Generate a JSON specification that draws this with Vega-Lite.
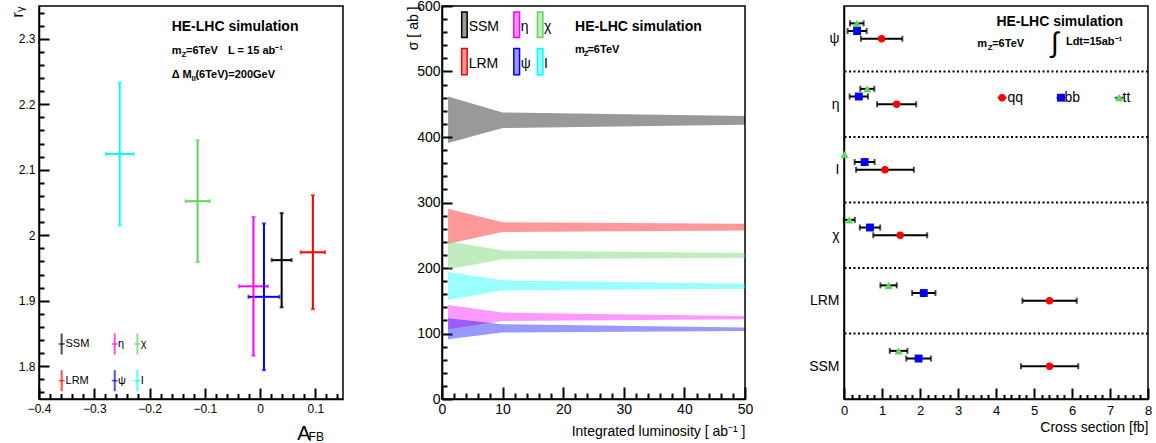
{
  "$schema": "https://vega.github.io/schema/vega-lite/v6.json",
  "background": "white",
  "padding": {"left": 7, "top": -2, "right": 0, "bottom": 0},
  "spacing": 99,
  "bounds": "flush",
  "resolve": {"scale": {"color": "independent", "shape": "independent", "size": "independent", "stroke": "independent"}},
  "config": {
    "font": "Liberation Sans",
    "view": {"stroke": "black", "strokeWidth": 1.5},
    "axis": {"domainColor": "black", "domainWidth": 1.5, "labelColor": "black", "titleColor": "black", "labelFont": "Liberation Sans", "titleFont": "Liberation Sans", "titleFontWeight": "normal", "grid": false, "labelFlush": false, "labelOverlap": false, "zindex": 2}
  },
  "datasets": {
    "p1": [
      {"model": "SSM", "a": 0.039, "ea": 0.018, "r": 1.962, "er": 0.072},
      {"model": "LRM", "a": 0.0955, "ea": 0.022, "r": 1.974, "er": 0.087},
      {"model": "χ", "a": -0.113, "ea": 0.022, "r": 2.052, "er": 0.093},
      {"model": "I", "a": -0.254, "ea": 0.025, "r": 2.124, "er": 0.109},
      {"model": "η", "a": -0.012, "ea": 0.026, "r": 1.922, "er": 0.106},
      {"model": "ψ", "a": 0.007, "ea": 0.028, "r": 1.906, "er": 0.112}
    ],
    "p1leg": [
      {"model": "SSM", "a": -0.359, "r": 1.834, "lx": -0.352},
      {"model": "η", "a": -0.263, "r": 1.834, "lx": -0.257},
      {"model": "χ", "a": -0.222, "r": 1.834, "lx": -0.216},
      {"model": "LRM", "a": -0.359, "r": 1.778, "lx": -0.352},
      {"model": "ψ", "a": -0.263, "r": 1.778, "lx": -0.257},
      {"model": "I", "a": -0.222, "r": 1.778, "lx": -0.216}
    ],
    "p1big": [{"a": -0.160, "r": 2.318, "t": "HE-LHC simulation"}],
    "p1mid": [
      {"a": -0.160, "r": 2.282, "t": "m"},
      {"a": -0.134, "r": 2.282, "t": "=6TeV"},
      {"a": -0.058, "r": 2.282, "t": "L = 15 ab⁻¹"},
      {"a": -0.160, "r": 2.245, "t": "Δ M"},
      {"a": -0.117, "r": 2.245, "t": "(6TeV)=200GeV"}
    ],
    "p1sub": [
      {"a": -0.142, "r": 2.282, "t": "Z"},
      {"a": -0.124, "r": 2.245, "t": "ll"}
    ],
    "p1fb": [{"a": 0.0878, "r": 1.6856, "t": "FB"}],
    "p2": [
      {"model": "SSM", "L": 1, "lo": 391, "hi": 462},
      {"model": "SSM", "L": 10, "lo": 413.6, "hi": 437.5},
      {"model": "SSM", "L": 50, "lo": 418.8, "hi": 431.9},
      {"model": "LRM", "L": 1, "lo": 237, "hi": 290.3},
      {"model": "LRM", "L": 10, "lo": 254.8, "hi": 270},
      {"model": "LRM", "L": 50, "lo": 257.3, "hi": 267.5},
      {"model": "χ", "L": 1, "lo": 198, "hi": 241},
      {"model": "χ", "L": 10, "lo": 213.2, "hi": 226.8},
      {"model": "χ", "L": 50, "lo": 215.7, "hi": 222.8},
      {"model": "I", "L": 1, "lo": 151.2, "hi": 193.9},
      {"model": "I", "L": 10, "lo": 166, "hi": 181.2},
      {"model": "I", "L": 50, "lo": 168.4, "hi": 176},
      {"model": "η", "L": 1, "lo": 106.6, "hi": 143.6},
      {"model": "η", "L": 10, "lo": 119.2, "hi": 131.9},
      {"model": "η", "L": 50, "lo": 121.8, "hi": 126.8},
      {"model": "ψ", "L": 1, "lo": 91.3, "hi": 123.3},
      {"model": "ψ", "L": 10, "lo": 101.5, "hi": 114.2},
      {"model": "ψ", "L": 50, "lo": 104, "hi": 109}
    ],
    "p2leg": [
      {"model": "SSM", "L": 3.25, "L2": 4.15, "lo": 552, "hi": 591},
      {"model": "η", "L": 11.85, "L2": 12.8, "lo": 552, "hi": 591},
      {"model": "χ", "L": 15.75, "L2": 16.65, "lo": 552, "hi": 591},
      {"model": "LRM", "L": 3.25, "L2": 4.15, "lo": 495, "hi": 535},
      {"model": "ψ", "L": 11.85, "L2": 12.8, "lo": 495, "hi": 535},
      {"model": "I", "L": 15.75, "L2": 16.65, "lo": 495, "hi": 535}
    ],
    "p2legtxt": [
      {"L": 4.4, "lo": 568, "t": "SSM"},
      {"L": 13.0, "lo": 568, "t": "η"},
      {"L": 16.85, "lo": 568, "t": "χ"},
      {"L": 4.4, "lo": 511, "t": "LRM"},
      {"L": 13.0, "lo": 511, "t": "ψ"},
      {"L": 16.85, "lo": 511, "t": "I"}
    ],
    "p2big": [{"L": 21.95, "lo": 568.5, "t": "HE-LHC simulation"}],
    "p2mid": [
      {"L": 21.95, "lo": 533, "t": "m"},
      {"L": 24.0, "lo": 533, "t": "=6TeV"}
    ],
    "p2sub": [{"L": 23.4, "lo": 533, "t": "Z"}],
    "sep": [{"y": 1}, {"y": 2}, {"y": 3}, {"y": 4}, {"y": 5}],
    "p3": [
      {"model": "ψ", "ch": "tt", "x": 0.337, "ex": 0.18, "y": 5.735},
      {"model": "ψ", "ch": "bb", "x": 0.345, "ex": 0.25, "y": 5.618},
      {"model": "ψ", "ch": "qq", "x": 0.99, "ex": 0.545, "y": 5.5},
      {"model": "η", "ch": "tt", "x": 0.613, "ex": 0.184, "y": 4.735},
      {"model": "η", "ch": "bb", "x": 0.39, "ex": 0.242, "y": 4.618},
      {"model": "η", "ch": "qq", "x": 1.385, "ex": 0.515, "y": 4.5},
      {"model": "I", "ch": "tt", "x": 0.018, "ex": 0, "y": 3.735},
      {"model": "I", "ch": "bb", "x": 0.543, "ex": 0.263, "y": 3.618},
      {"model": "I", "ch": "qq", "x": 1.078, "ex": 0.76, "y": 3.5},
      {"model": "χ", "ch": "tt", "x": 0.14, "ex": 0.145, "y": 2.735},
      {"model": "χ", "ch": "bb", "x": 0.684, "ex": 0.268, "y": 2.618},
      {"model": "χ", "ch": "qq", "x": 1.48, "ex": 0.71, "y": 2.5},
      {"model": "LRM", "ch": "tt", "x": 1.174, "ex": 0.215, "y": 1.735},
      {"model": "LRM", "ch": "bb", "x": 2.1, "ex": 0.307, "y": 1.618},
      {"model": "LRM", "ch": "qq", "x": 5.41, "ex": 0.715, "y": 1.5},
      {"model": "SSM", "ch": "tt", "x": 1.437, "ex": 0.232, "y": 0.735},
      {"model": "SSM", "ch": "bb", "x": 1.963, "ex": 0.325, "y": 0.618},
      {"model": "SSM", "ch": "qq", "x": 5.41, "ex": 0.755, "y": 0.5}
    ],
    "p3leg": [
      {"ch": "qq", "x": 4.16, "y": 4.6},
      {"ch": "bb", "x": 5.71, "y": 4.6},
      {"ch": "tt", "x": 7.24, "y": 4.6}
    ],
    "p3legtxt": [
      {"x": 4.3, "y": 4.6, "t": "qq"},
      {"x": 5.8, "y": 4.6, "t": "bb"},
      {"x": 7.33, "y": 4.6, "t": "tt"}
    ],
    "p3big": [{"x": 4.01, "y": 5.756, "t": "HE-LHC simulation"}],
    "p3mid": [
      {"x": 3.505, "y": 5.42, "t": "m"},
      {"x": 3.9, "y": 5.42, "t": "=6TeV"},
      {"x": 5.84, "y": 5.45, "t": "Ldt=15ab⁻¹"}
    ],
    "p3sub": [{"x": 3.78, "y": 5.42, "t": "Z"}],
    "p3int": [{"x": 5.55, "y": 5.42, "t": "∫"}]
  },
  "hconcat": [
    {
      "width": 304,
      "height": 393,
      "resolve": {"axis": {"x": "independent", "y": "independent"}},
      "layer": [
        {
          "layer": [
            {
              "data": {"name": "p1"},
              "mark": {"type": "errorbar", "thickness": 2, "ticks": {"size": 4}},
              "encoding": {
                "x": {"field": "a", "type": "quantitative", "title": "A", "scale": {"domain": [-0.4, 0.15], "nice": false, "zero": false},
                  "axis": {"values": [-0.4, -0.3, -0.2, -0.1, 0, 0.1], "format": "~g",
                    "ticks": true, "tickSize": -11, "tickColor": "black", "tickWidth": 2, "tickOpacity": 1,
                    "labelPadding": 15, "labelFontSize": 12,
                    "title": "A", "titleFontSize": 20, "titleX": 271, "titleY": 40, "titleAlign": "right", "titleBaseline": "alphabetic"}},
                "xError": {"field": "ea"},
                "y": {"field": "r", "type": "quantitative", "title": "rᵧ", "scale": {"domain": [1.75, 2.35], "nice": false, "zero": false},
                  "axis": {"values": [1.8, 1.9, 2, 2.1, 2.2, 2.3], "format": "~g",
                    "ticks": true, "tickSize": -10, "tickColor": "black", "tickWidth": 2, "tickOpacity": 1,
                    "labelPadding": 14, "labelFontSize": 12,
                    "title": "rᵧ", "titleFontSize": 17, "titleAnchor": "end", "titlePadding": -8}},
                "color": {"field": "model", "type": "nominal", "scale": {"domain": ["SSM", "LRM", "χ", "I", "η", "ψ"], "range": ["#000000", "#ff0000", "#5fd35f", "#00ffff", "#ff00ff", "#0000ff"]}, "legend": null}
              }
            },
            {
              "data": {"name": "p1"},
              "mark": {"type": "errorbar", "thickness": 2, "ticks": {"size": 4}},
              "encoding": {
                "x": {"field": "a", "type": "quantitative", "title": "A"},
                "y": {"field": "r", "type": "quantitative", "title": "rᵧ"},
                "yError": {"field": "er"},
                "color": {"field": "model", "type": "nominal", "legend": null}
              }
            },
            {
              "data": {"name": "p1leg"},
              "mark": {"type": "tick", "orient": "vertical", "size": 21, "thickness": 2},
              "encoding": {
                "x": {"field": "a", "type": "quantitative", "title": "A"},
                "y": {"field": "r", "type": "quantitative", "title": "rᵧ"},
                "color": {"field": "model", "type": "nominal", "legend": null}
              }
            },
            {
              "data": {"name": "p1leg"},
              "mark": {"type": "tick", "orient": "horizontal", "size": 6, "thickness": 1.5},
              "encoding": {
                "x": {"field": "a", "type": "quantitative", "title": "A"},
                "y": {"field": "r", "type": "quantitative", "title": "rᵧ"},
                "color": {"field": "model", "type": "nominal", "legend": null}
              }
            },
            {
              "data": {"name": "p1leg"},
              "mark": {"type": "text", "align": "left", "baseline": "middle", "fontSize": 11, "color": "black"},
              "encoding": {
                "x": {"field": "lx", "type": "quantitative", "title": "A"},
                "y": {"field": "r", "type": "quantitative", "title": "rᵧ"},
                "text": {"field": "model"}
              }
            },
            {
              "data": {"name": "p1big"},
              "mark": {"type": "text", "align": "left", "baseline": "middle", "fontSize": 14, "fontWeight": "bold", "color": "black"},
              "encoding": {"x": {"field": "a", "type": "quantitative", "title": "A"}, "y": {"field": "r", "type": "quantitative", "title": "rᵧ"}, "text": {"field": "t"}}
            },
            {
              "data": {"name": "p1mid"},
              "mark": {"type": "text", "align": "left", "baseline": "middle", "fontSize": 11, "fontWeight": "bold", "color": "black"},
              "encoding": {"x": {"field": "a", "type": "quantitative", "title": "A"}, "y": {"field": "r", "type": "quantitative", "title": "rᵧ"}, "text": {"field": "t"}}
            },
            {
              "data": {"name": "p1sub"},
              "mark": {"type": "text", "align": "left", "baseline": "middle", "fontSize": 8, "fontWeight": "bold", "dy": 4, "color": "black"},
              "encoding": {"x": {"field": "a", "type": "quantitative", "title": "A"}, "y": {"field": "r", "type": "quantitative", "title": "rᵧ"}, "text": {"field": "t"}}
            },
            {
              "data": {"name": "p1fb"},
              "mark": {"type": "text", "align": "left", "baseline": "alphabetic", "fontSize": 12, "color": "black"},
              "encoding": {"x": {"field": "a", "type": "quantitative", "title": "A"}, "y": {"field": "r", "type": "quantitative", "title": "rᵧ"}, "text": {"field": "t"}}
            }
          ]
        },
        {
          "data": {"name": "p1"},
          "mark": {"type": "point", "opacity": 0},
          "encoding": {
            "x": {"field": "a", "type": "quantitative", "scale": {"domain": [-0.4, 0.15], "nice": false, "zero": false},
              "axis": {"orient": "bottom", "values": [-0.38,-0.36,-0.34,-0.32,-0.28,-0.26,-0.24,-0.22,-0.18,-0.16,-0.14,-0.12,-0.08,-0.06,-0.04,-0.02,0.02,0.04,0.06,0.08,0.12,0.14],
                "labels": false, "domain": false, "ticks": true, "tickSize": -5.5, "tickColor": "black", "tickWidth": 2, "tickOpacity": 1, "title": null}},
            "y": {"field": "r", "type": "quantitative", "scale": {"domain": [1.75, 2.35], "nice": false, "zero": false},
              "axis": {"orient": "left", "values": [1.76,1.78,1.82,1.84,1.86,1.88,1.92,1.94,1.96,1.98,2.02,2.04,2.06,2.08,2.12,2.14,2.16,2.18,2.22,2.24,2.26,2.28,2.32,2.34],
                "labels": false, "domain": false, "ticks": true, "tickSize": -5, "tickColor": "black", "tickWidth": 2, "tickOpacity": 1, "title": null}}
          }
        }
      ]
    },
    {
      "width": 303,
      "height": 393,
      "resolve": {"axis": {"x": "independent", "y": "independent"}},
      "layer": [
        {
          "layer": [
            {
              "data": {"name": "p2"},
              "mark": {"type": "area", "fillOpacity": 0.4},
              "encoding": {
                "x": {"field": "L", "type": "quantitative", "title": "Integrated luminosity [ ab⁻¹ ]", "scale": {"domain": [0, 50], "nice": false},
                  "axis": {"values": [0, 10, 20, 30, 40, 50],
                    "ticks": true, "tickSize": -12, "tickColor": "black", "tickWidth": 2, "tickOpacity": 1,
                    "labelPadding": 15, "labelFontSize": 14,
                    "title": "Integrated luminosity [ ab⁻¹ ]", "titleFontSize": 14, "titleAnchor": "end", "titlePadding": 8}},
                "y": {"field": "lo", "type": "quantitative", "title": "σ [ ab ]", "scale": {"domain": [0, 600], "nice": false},
                  "axis": {"values": [0, 100, 200, 300, 400, 500, 600],
                    "ticks": true, "tickSize": -10, "tickColor": "black", "tickWidth": 2, "tickOpacity": 1,
                    "labelPadding": 12, "labelFontSize": 14,
                    "title": "σ [ ab ]", "titleFontSize": 14, "titleAnchor": "end", "titlePadding": -4}},
                "y2": {"field": "hi"},
                "color": {"field": "model", "type": "nominal", "scale": {"domain": ["SSM", "LRM", "χ", "I", "η", "ψ"], "range": ["#000000", "#ff0000", "#5fd35f", "#00ffff", "#ff00ff", "#0000ff"]}, "legend": null}
              }
            },
            {
              "data": {"name": "p2leg"},
              "mark": {"type": "rect", "fillOpacity": 0.4, "strokeWidth": 1.5},
              "encoding": {
                "x": {"field": "L", "type": "quantitative", "title": "Integrated luminosity [ ab⁻¹ ]"},
                "x2": {"field": "L2"},
                "y": {"field": "lo", "type": "quantitative", "title": "σ [ ab ]"},
                "y2": {"field": "hi"},
                "color": {"field": "model", "type": "nominal", "legend": null},
                "stroke": {"field": "model", "type": "nominal", "scale": {"domain": ["SSM", "LRM", "χ", "I", "η", "ψ"], "range": ["#000000", "#ff0000", "#5fd35f", "#00ffff", "#ff00ff", "#0000ff"]}, "legend": null}
              }
            },
            {
              "data": {"name": "p2legtxt"},
              "mark": {"type": "text", "align": "left", "baseline": "middle", "fontSize": 14, "color": "black"},
              "encoding": {"x": {"field": "L", "type": "quantitative", "title": "Integrated luminosity [ ab⁻¹ ]"}, "y": {"field": "lo", "type": "quantitative", "title": "σ [ ab ]"}, "text": {"field": "t"}}
            },
            {
              "data": {"name": "p2big"},
              "mark": {"type": "text", "align": "left", "baseline": "middle", "fontSize": 14, "fontWeight": "bold", "color": "black"},
              "encoding": {"x": {"field": "L", "type": "quantitative", "title": "Integrated luminosity [ ab⁻¹ ]"}, "y": {"field": "lo", "type": "quantitative", "title": "σ [ ab ]"}, "text": {"field": "t"}}
            },
            {
              "data": {"name": "p2mid"},
              "mark": {"type": "text", "align": "left", "baseline": "middle", "fontSize": 11, "fontWeight": "bold", "color": "black"},
              "encoding": {"x": {"field": "L", "type": "quantitative", "title": "Integrated luminosity [ ab⁻¹ ]"}, "y": {"field": "lo", "type": "quantitative", "title": "σ [ ab ]"}, "text": {"field": "t"}}
            },
            {
              "data": {"name": "p2sub"},
              "mark": {"type": "text", "align": "left", "baseline": "middle", "fontSize": 8, "fontWeight": "bold", "dy": 4, "color": "black"},
              "encoding": {"x": {"field": "L", "type": "quantitative", "title": "Integrated luminosity [ ab⁻¹ ]"}, "y": {"field": "lo", "type": "quantitative", "title": "σ [ ab ]"}, "text": {"field": "t"}}
            }
          ]
        },
        {
          "data": {"name": "p2"},
          "mark": {"type": "point", "opacity": 0},
          "encoding": {
            "x": {"field": "L", "type": "quantitative", "scale": {"domain": [0, 50], "nice": false},
              "axis": {"orient": "bottom", "values": [2,4,6,8,12,14,16,18,22,24,26,28,32,34,36,38,42,44,46,48],
                "labels": false, "domain": false, "ticks": true, "tickSize": -6, "tickColor": "black", "tickWidth": 2, "tickOpacity": 1, "title": null}},
            "y": {"field": "lo", "type": "quantitative", "scale": {"domain": [0, 600], "nice": false},
              "axis": {"orient": "left", "values": [20,40,60,80,120,140,160,180,220,240,260,280,320,340,360,380,420,440,460,480,520,540,560,580],
                "labels": false, "domain": false, "ticks": true, "tickSize": -5, "tickColor": "black", "tickWidth": 2, "tickOpacity": 1, "title": null}}
          }
        }
      ]
    },
    {
      "width": 304,
      "height": 393,
      "resolve": {"axis": {"x": "independent", "y": "independent"}},
      "layer": [
        {
          "layer": [
            {
              "data": {"name": "sep"},
              "mark": {"type": "rule", "strokeDash": [2, 2.5], "strokeWidth": 2, "color": "black"},
              "encoding": {
                "y": {"field": "y", "type": "quantitative", "title": null, "scale": {"domain": [0, 6], "nice": false, "zero": false},
                  "axis": {"values": [0.5, 1.5, 2.5, 3.5, 4.5, 5.5], "ticks": false, "labelPadding": 5, "labelFontSize": 14,
                    "labelExpr": "['SSM','LRM','χ','I','η','ψ'][floor(datum.value)]", "title": null}}
              }
            },
            {
              "data": {"name": "p3"},
              "transform": [{"filter": "datum.ex > 0"}],
              "mark": {"type": "errorbar", "color": "black", "thickness": 2, "ticks": {"size": 6}},
              "encoding": {
                "x": {"field": "x", "type": "quantitative", "title": "Cross section [fb]", "scale": {"domain": [0, 8], "nice": false, "zero": false},
                  "axis": {"values": [0, 2, 4, 6, 8], "format": "~g",
                    "ticks": true, "tickSize": -11, "tickColor": "black", "tickWidth": 2, "tickOpacity": 1,
                    "labelPadding": 16, "labelFontSize": 13,
                    "title": "Cross section [fb]", "titleFontSize": 14, "titleAnchor": "end", "titlePadding": 3}},
                "xError": {"field": "ex"},
                "y": {"field": "y", "type": "quantitative", "title": null}
              }
            },
            {
              "data": {"name": "p3"},
              "mark": {"type": "point", "filled": true, "opacity": 1},
              "encoding": {
                "x": {"field": "x", "type": "quantitative", "title": "Cross section [fb]"},
                "y": {"field": "y", "type": "quantitative", "title": null},
                "color": {"field": "ch", "type": "nominal", "scale": {"domain": ["qq", "bb", "tt"], "range": ["#ff0000", "#0000ff", "#5fd35f"]}, "legend": null},
                "shape": {"field": "ch", "type": "nominal", "scale": {"domain": ["qq", "bb", "tt"], "range": ["circle", "square", "triangle-up"]}, "legend": null},
                "size": {"field": "ch", "type": "ordinal", "scale": {"domain": ["qq", "bb", "tt"], "range": [55, 70, 40]}, "legend": null}
              }
            },
            {
              "data": {"name": "p3leg"},
              "mark": {"type": "tick", "orient": "horizontal", "size": 9, "thickness": 2, "color": "black"},
              "encoding": {"x": {"field": "x", "type": "quantitative", "title": "Cross section [fb]"}, "y": {"field": "y", "type": "quantitative", "title": null}}
            },
            {
              "data": {"name": "p3leg"},
              "mark": {"type": "point", "filled": true, "opacity": 1},
              "encoding": {
                "x": {"field": "x", "type": "quantitative", "title": "Cross section [fb]"},
                "y": {"field": "y", "type": "quantitative", "title": null},
                "color": {"field": "ch", "type": "nominal", "legend": null},
                "shape": {"field": "ch", "type": "nominal", "legend": null},
                "size": {"field": "ch", "type": "ordinal", "legend": null}
              }
            },
            {
              "data": {"name": "p3legtxt"},
              "mark": {"type": "text", "align": "left", "baseline": "middle", "fontSize": 14, "color": "black"},
              "encoding": {"x": {"field": "x", "type": "quantitative", "title": "Cross section [fb]"}, "y": {"field": "y", "type": "quantitative", "title": null}, "text": {"field": "t"}}
            },
            {
              "data": {"name": "p3big"},
              "mark": {"type": "text", "align": "left", "baseline": "middle", "fontSize": 14, "fontWeight": "bold", "color": "black"},
              "encoding": {"x": {"field": "x", "type": "quantitative", "title": "Cross section [fb]"}, "y": {"field": "y", "type": "quantitative", "title": null}, "text": {"field": "t"}}
            },
            {
              "data": {"name": "p3mid"},
              "mark": {"type": "text", "align": "left", "baseline": "middle", "fontSize": 11, "fontWeight": "bold", "color": "black"},
              "encoding": {"x": {"field": "x", "type": "quantitative", "title": "Cross section [fb]"}, "y": {"field": "y", "type": "quantitative", "title": null}, "text": {"field": "t"}}
            },
            {
              "data": {"name": "p3sub"},
              "mark": {"type": "text", "align": "left", "baseline": "middle", "fontSize": 8, "fontWeight": "bold", "dy": 4, "color": "black"},
              "encoding": {"x": {"field": "x", "type": "quantitative", "title": "Cross section [fb]"}, "y": {"field": "y", "type": "quantitative", "title": null}, "text": {"field": "t"}}
            },
            {
              "data": {"name": "p3int"},
              "mark": {"type": "text", "align": "center", "baseline": "middle", "fontSize": 28, "color": "black"},
              "encoding": {"x": {"field": "x", "type": "quantitative", "title": "Cross section [fb]"}, "y": {"field": "y", "type": "quantitative", "title": null}, "text": {"field": "t"}}
            }
          ]
        },
        {
          "data": {"name": "p3"},
          "mark": {"type": "point", "opacity": 0},
          "encoding": {
            "x": {"field": "x", "type": "quantitative", "scale": {"domain": [0, 8], "nice": false, "zero": false},
              "axis": {"orient": "bottom", "values": [1, 3, 5, 7], "format": "~g",
                "domain": false, "ticks": true, "tickSize": -11, "tickColor": "black", "tickWidth": 2, "tickOpacity": 1,
                "labelPadding": 16, "labelFontSize": 13, "title": null}},
            "y": {"field": "y", "type": "quantitative", "axis": null}
          }
        },
        {
          "data": {"name": "p3"},
          "mark": {"type": "point", "opacity": 0},
          "encoding": {
            "x": {"field": "x", "type": "quantitative", "scale": {"domain": [0, 8], "nice": false, "zero": false},
              "axis": {"orient": "bottom", "values": [0.2,0.4,0.6,0.8,1.2,1.4,1.6,1.8,2.2,2.4,2.6,2.8,3.2,3.4,3.6,3.8,4.2,4.4,4.6,4.8,5.2,5.4,5.6,5.8,6.2,6.4,6.6,6.8,7.2,7.4,7.6,7.8],
                "labels": false, "domain": false, "ticks": true, "tickSize": -4.5, "tickColor": "black", "tickWidth": 2, "tickOpacity": 1, "title": null}},
            "y": {"field": "y", "type": "quantitative", "axis": null}
          }
        }
      ]
    }
  ]
}
